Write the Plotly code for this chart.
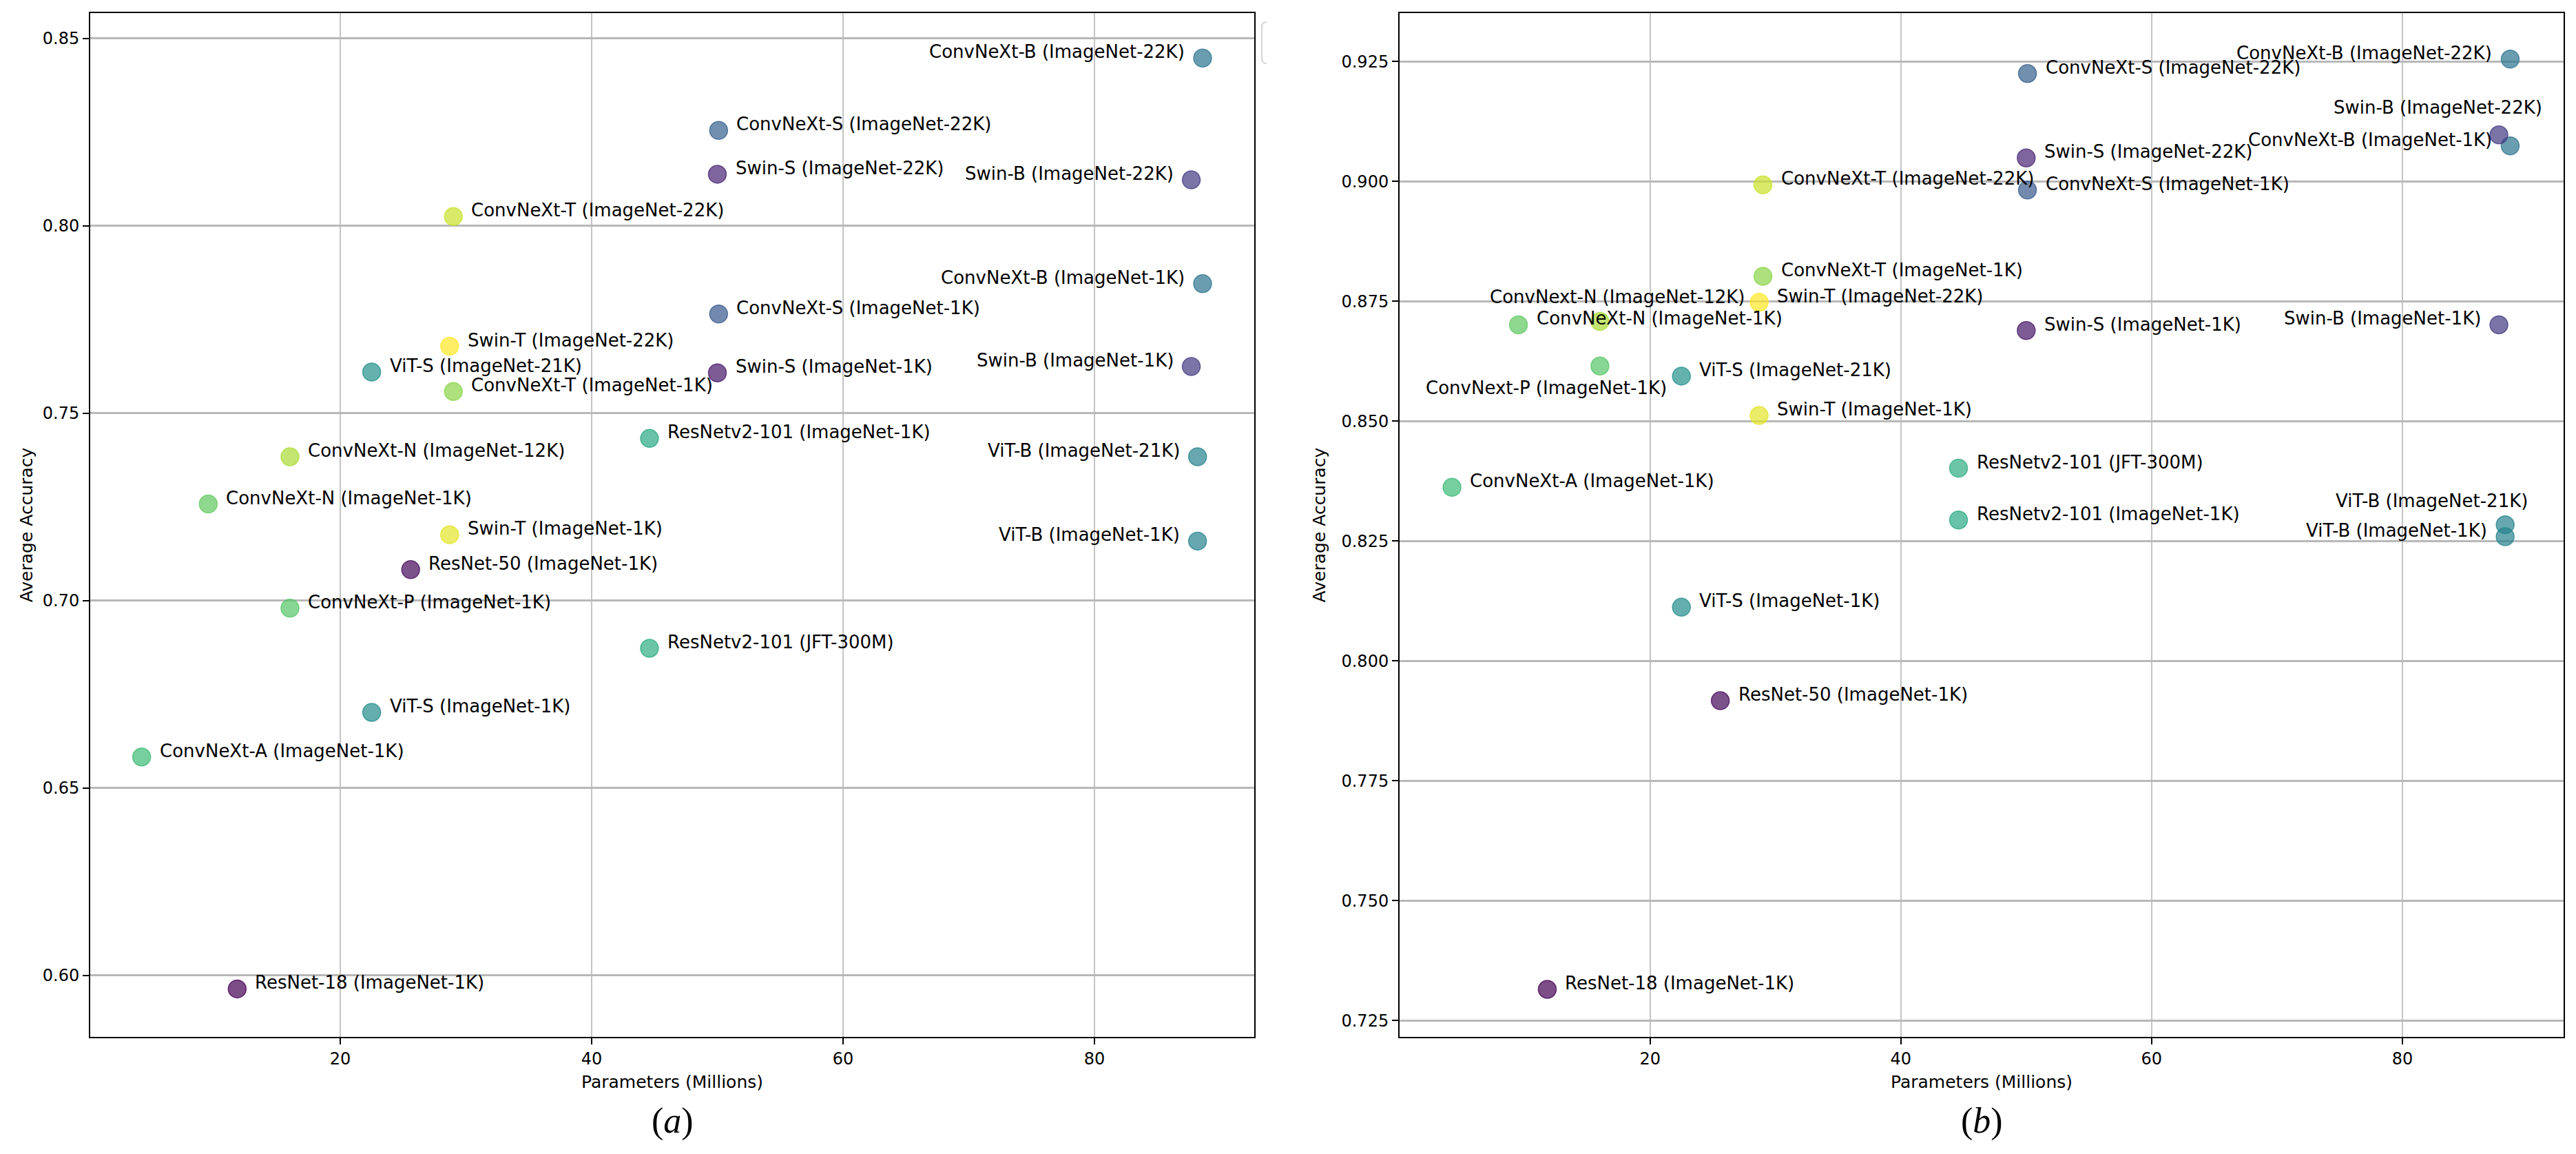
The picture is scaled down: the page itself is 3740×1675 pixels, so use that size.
import plotly.graph_objects as go
from plotly.colors import sample_colorscale, unlabel_rgb
from plotly.subplots import make_subplots

# model names as printed in panel (a) and panel (b)
labels_a = [
    "ConvNeXt-B (ImageNet-22K)", "ConvNeXt-B (ImageNet-1K)",
    "ConvNeXt-S (ImageNet-22K)", "ConvNeXt-S (ImageNet-1K)",
    "ConvNeXt-T (ImageNet-22K)", "ConvNeXt-T (ImageNet-1K)",
    "ConvNeXt-N (ImageNet-12K)", "ConvNeXt-N (ImageNet-1K)",
    "ConvNeXt-P (ImageNet-1K)", "ConvNeXt-A (ImageNet-1K)",
    "Swin-B (ImageNet-22K)", "Swin-B (ImageNet-1K)",
    "Swin-S (ImageNet-22K)", "Swin-S (ImageNet-1K)",
    "Swin-T (ImageNet-22K)", "Swin-T (ImageNet-1K)",
    "ViT-B (ImageNet-21K)", "ViT-B (ImageNet-1K)",
    "ViT-S (ImageNet-21K)", "ViT-S (ImageNet-1K)",
    "ResNetv2-101 (JFT-300M)", "ResNetv2-101 (ImageNet-1K)",
    "ResNet-50 (ImageNet-1K)", "ResNet-18 (ImageNet-1K)",
]
labels_b = list(labels_a)
labels_b[6] = "ConvNext-N (ImageNet-12K)"
labels_b[8] = "ConvNext-P (ImageNet-1K)"

params = [88.6, 88.6, 50.1, 50.1, 29.0, 29.0, 16.0, 9.5, 16.0, 4.2,
          87.7, 87.7, 50.0, 50.0, 28.7, 28.7, 88.2, 88.2, 22.5, 22.5,
          44.6, 44.6, 25.6, 11.8]

acc_a = [0.8448, 0.7846, 0.8255, 0.7765, 0.8025, 0.7558, 0.7384, 0.7258,
         0.6980, 0.6583, 0.8123, 0.7625, 0.8138, 0.7608, 0.7679, 0.7176,
         0.7384, 0.7159, 0.7610, 0.6702, 0.6873, 0.7433, 0.7083, 0.5964]

acc_b = [0.9255, 0.9074, 0.9225, 0.8982, 0.8993, 0.8802, 0.8708, 0.8701,
         0.8615, 0.8362, 0.9097, 0.8701, 0.9049, 0.8689, 0.8748, 0.8512,
         0.8284, 0.8259, 0.8594, 0.8112, 0.8402, 0.8294, 0.7917, 0.7315]

# position of each point on the viridis scale
cvals = [0.38, 0.38, 0.30, 0.28, 0.92, 0.82, 0.87, 0.75, 0.73, 0.68,
         0.17, 0.17, 0.10, 0.06, 1.00, 0.96, 0.45, 0.45, 0.50, 0.48,
         0.62, 0.60, 0.02, 0.00]

x_ticks = [20, 40, 60, 80]

W, H = 3740, 1675
OFF = 8  # the page body margin shifts the figure by this much
FONT = "DejaVu Sans"


def fx(px):
    return (px - OFF) / W


def fy(py):
    return 1 - (py - OFF) / H


fill = []
edge = []
for c in sample_colorscale("Viridis", cvals):
    r, g, b = unlabel_rgb(c)
    fill.append(f"rgba({r:.0f},{g:.0f},{b:.0f},0.7)")
    edge.append(f"rgba({r:.0f},{g:.0f},{b:.0f},0.75)")

fig = make_subplots(rows=1, cols=2)

# label offsets that differ from the usual "right of the point" placement
special_b = {
    "ConvNext-N (ImageNet-12K)": ("center", 25, 36),
    "Swin-B (ImageNet-22K)": ("center", -89, 40),
    "ConvNext-P (ImageNet-1K)": ("center", -78, -32),
    "ViT-B (ImageNet-21K)": ("center", -107, 35),
}

for col, (acc, labels, special) in enumerate(
    [(acc_a, labels_a, {}), (acc_b, labels_b, special_b)], start=1
):
    fig.add_trace(
        go.Scatter(
            x=params, y=acc, mode="markers",
            marker=dict(size=26, color=fill, line=dict(color=edge, width=1.5)),
            hoverinfo="text", text=labels, showlegend=False,
        ),
        row=1, col=col,
    )
    xr = "x" if col == 1 else "x2"
    yr = "y" if col == 1 else "y2"
    for px_, ac, lab in zip(params, acc, labels):
        if lab in special:
            anchor, dx, dy = special[lab]
        elif px_ > 80:
            anchor, dx, dy = "right", -24, 9
        else:
            anchor, dx, dy = "left", 24, 9
        fig.add_annotation(
            x=px_, y=ac, xref=xr, yref=yr, text=lab, showarrow=False,
            xanchor=anchor, yanchor="middle", xshift=dx, yshift=dy,
            font=dict(family=FONT, size=26, color="black"),
        )

axis_common = dict(
    showline=True, mirror=True, linecolor="black", linewidth=2,
    ticks="outside", ticklen=9, tickwidth=2, tickcolor="black",
    tickfont=dict(family=FONT, size=24, color="black"),
    zeroline=False, showgrid=True,
)

fig.update_xaxes(
    **axis_common, tickvals=x_ticks, gridcolor="#c4c4c4", gridwidth=1.5,
    title=dict(text="Parameters (Millions)", standoff=12,
               font=dict(family=FONT, size=25, color="black")),
)
fig.update_yaxes(
    **axis_common, gridcolor="#b8b8b8", gridwidth=2.5,
    title=dict(text="Average Accuracy",
               font=dict(family=FONT, size=25, color="black")),
)

fig.update_layout(
    width=W, height=H,
    margin=dict(l=0, r=0, t=0, b=0),
    paper_bgcolor="white", plot_bgcolor="white",
    xaxis=dict(domain=[fx(131), fx(1821)], range=[0.11, 92.71]),
    yaxis=dict(domain=[fy(1505), fy(19)], range=[0.5836, 0.8568],
               dtick=0.05, tickformat=".2f", title_standoff=7),
    xaxis2=dict(domain=[fx(2032), fx(3722)], range=[0.02, 92.86]),
    yaxis2=dict(domain=[fy(1505), fy(19)], range=[0.7216, 0.9351],
                dtick=0.025, tickformat=".3f", title_standoff=16),
)

# panel captions
for xc, cap in [((131 + 1821) / 2, "(<i>a</i>)"), ((2032 + 3722) / 2, "(<i>b</i>)")]:
    fig.add_annotation(
        x=fx(xc), y=fy(1627), xref="paper", yref="paper", text=cap,
        showarrow=False, xanchor="center", yanchor="middle",
        font=dict(family="Liberation Serif", size=52, color="black"),
    )

# clipped legend frames peeking out on the right of each panel
for x_px in [1832, 3735]:
    x0 = fx(x_px)
    rx, ry = 7 / W, 7 / H
    yt, yb = fy(32), fy(92)
    fig.add_shape(
        type="path", xref="paper", yref="paper",
        path=f"M {x0 + rx},{yt} Q {x0},{yt} {x0},{yt - ry} L {x0},{yb + ry} Q {x0},{yb} {x0 + rx},{yb}",
        line=dict(color="#d6d6d6", width=2),
    )

fig.write_html("out.html")
